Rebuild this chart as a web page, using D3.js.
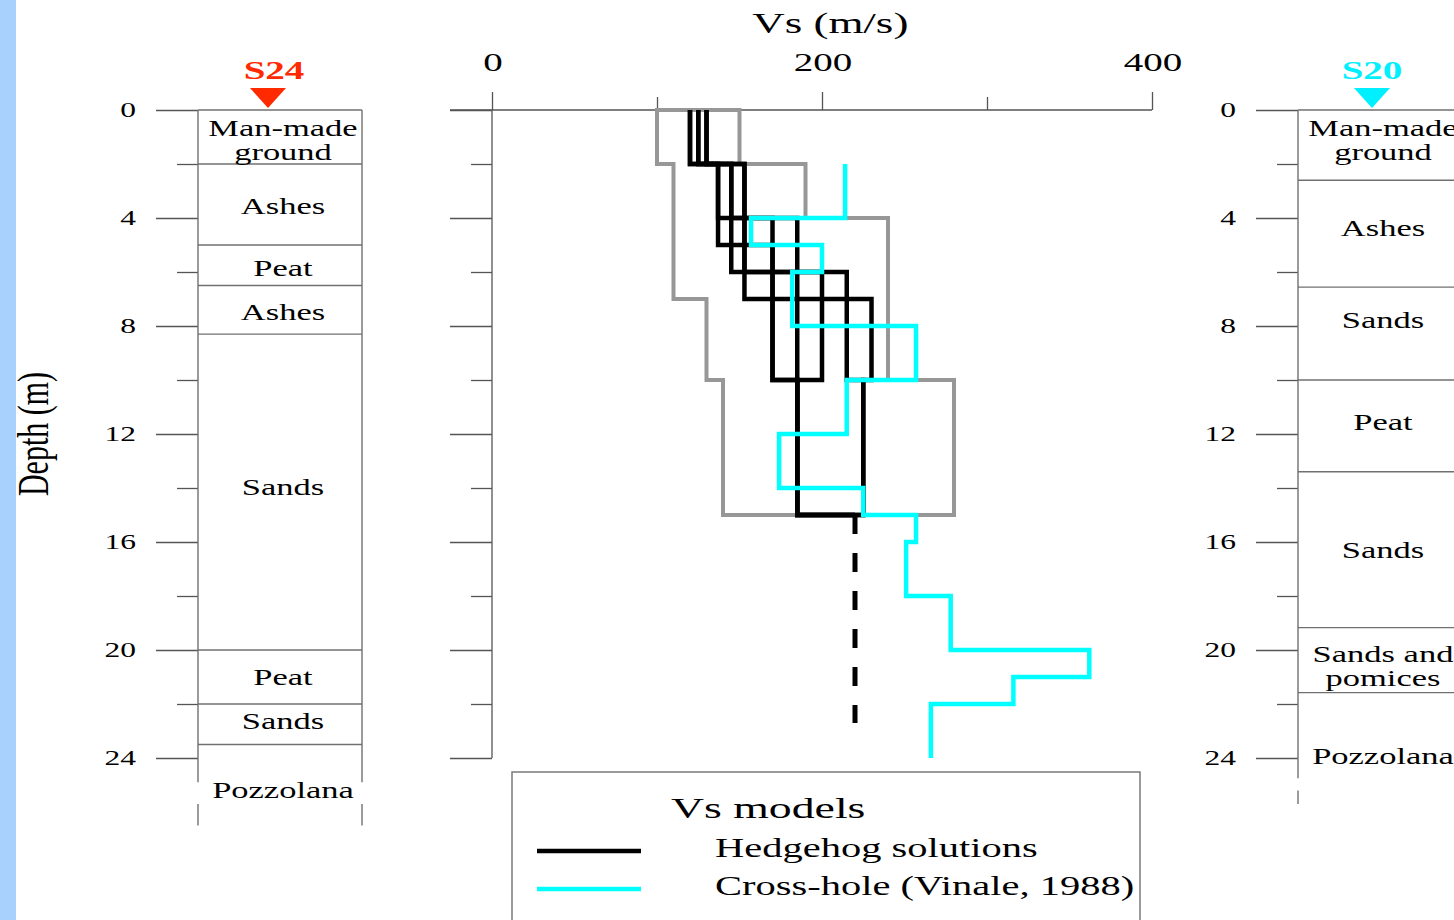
<!DOCTYPE html>
<html><head><meta charset="utf-8">
<script src="https://cdn.jsdelivr.net/npm/d3@7"></script>
<style>html,body{margin:0;padding:0;background:#fff;overflow:hidden}</style>
</head><body><svg id="c" width="1454" height="920"></svg>
<script>
// ---------------- data ----------------
const vsTicksMajor = [0, 200, 400];
const vsTicksMinor = [100, 300];
const depthTicksMajor = [0, 4, 8, 12, 16, 20, 24];
const depthTicksMinor = [2, 6, 10, 14, 18, 22];

const s24Tops = [0, 2, 5, 6.5, 8.3, 20, 22, 23.5];
const s24Names = [["Man-made", "ground"], ["Ashes"], ["Peat"], ["Ashes"], ["Sands"], ["Peat"], ["Sands"], ["Pozzolana"]];
const s24LabelDepths = [1.12, 3.56, 5.85, 7.48, 13.96, 21.0, 22.63, 25.19];
const s24SideSpans = [[0, 24.9], [25.7, 26.5]];

const s20Tops = [0, 2.6, 6.56, 10, 13.4, 19.17, 21.58];
const s20Names = [["Man-made", "ground"], ["Ashes"], ["Sands"], ["Peat"], ["Sands"], ["Sands and", "pomices"], ["Pozzolana"]];
const s20LabelDepths = [1.12, 4.37, 7.78, 11.56, 16.3, 20.6, 23.93];
const s20SideSpans = [[0, 24.75], [25.2, 25.7]];

// grey envelope of the explored parameter space
const envMinTops = [0, 2, 7, 10], envMinVs = [100, 110, 130, 140];
const envMaxTops = [0, 2, 4, 10], envMaxVs = [150, 190, 240, 280];
const envBottom = 15;

// Hedgehog solutions
const hhTops = [[0, 2, 5, 10], [0, 2, 6, 10], [0, 2, 7, 10], [0, 2, 4, 10], [0, 2, 4], [0, 2, 6, 10]];
const hhVs = [[120, 137, 170, 185], [125, 145, 200, 185], [130, 153, 230, 225], [120, 137, 170, 185], [125, 145, 185], [130, 153, 215, 225]];
const hhBottom = 15;
const hhHalfspaceVs = 220;
const hhHalfspaceEnd = 22.7;

// Cross-hole (Vinale, 1988)
const chTops = [2, 4, 5, 6, 8, 10, 12, 14, 15, 16, 18, 20, 21, 22];
const chVs = [214, 157, 200, 182, 257, 215, 174, 225, 257, 251, 278, 362, 316, 266];
const chBottom = 24;

const legendItems = ["Hedgehog solutions", "Cross-hole (Vinale, 1988)"];
const legendColors = ["#000000", "#00ffff"];

// ---------------- drawing ----------------
const FONT = "'Liberation Serif','Times New Roman',serif";
const SX = 1.5;
const svg = d3.select("#c");
svg.append("rect").attr("x", 0).attr("y", 0).attr("width", 16).attr("height", 920).attr("fill", "#a8d2fd");

const x = d3.scaleLinear().domain([0, 400]).range([492, 1152]);
const y = d3.scaleLinear().domain([0, 24]).range([110, 758]);
const AX = "#555";

function txt(g, px, py, s, o) {
  return g.append("text")
    .attr("transform", `translate(${px},${py}) scale(${o.sx || SX},1)`)
    .attr("text-anchor", o.anchor || "middle")
    .attr("font-family", FONT)
    .attr("font-size", o.size)
    .attr("font-weight", o.weight || "normal")
    .attr("fill", o.fill || "#000")
    .text(s);
}
function styleAxis(g) {
  g.select(".domain").remove();
  g.selectAll(".tick line").attr("stroke", AX).attr("stroke-width", 1.3);
}

// ---- depth columns ----
function drawColumn(x0, w, tops, names, labelDepths, sideSpans, markerText, markerColor, markerOff, textOff) {
  const g = svg.append("g");
  g.append("g").attr("transform", `translate(${x0},0)`)
    .call(d3.axisLeft(y).tickValues(depthTicksMajor).tickSize(42).tickFormat("")).call(styleAxis);
  g.append("g").attr("transform", `translate(${x0},0)`)
    .call(d3.axisLeft(y).tickValues(depthTicksMinor).tickSize(21).tickFormat("")).call(styleAxis);
  depthTicksMajor.forEach(d => txt(g, x0 - 62, y(d) + 7, d, { size: 21, anchor: "end" }));
  tops.forEach(t => g.append("line").attr("x1", x0).attr("x2", x0 + w).attr("y1", y(t)).attr("y2", y(t))
    .attr("stroke", "#707070").attr("stroke-width", 1.4));
  sideSpans.forEach(s => [x0, x0 + w].forEach(xx => g.append("line").attr("x1", xx).attr("x2", xx)
    .attr("y1", y(s[0])).attr("y2", y(s[1])).attr("stroke", "#707070").attr("stroke-width", 1.4)));
  names.forEach((n, i) => {
    const yc = y(labelDepths[i]);
    n.forEach((line, k) => txt(g, x0 + w / 2 + 3, yc + 7.6 + (k - (n.length - 1) / 2) * 24, line, { size: 23 }));
  });
  const mx = x0 + markerOff;
  g.append("path").attr("d", `M${mx - 18},${y(0) - 22}L${mx + 18},${y(0) - 22}L${mx},${y(0) - 2}Z`).attr("fill", markerColor);
  txt(g, mx + textOff, 79, markerText, { size: 26, weight: "bold", fill: markerColor });
}
drawColumn(198, 164, s24Tops, s24Names, s24LabelDepths, s24SideSpans, "S24", "#ff2a00", 70, 6);
drawColumn(1298, 164, s20Tops, s20Names, s20LabelDepths, s20SideSpans, "S20", "#00f0ff", 74, 0);

// depth axis title
svg.append("text").attr("transform", `translate(48,${y(12)}) scale(${SX},1) rotate(-90)`)
  .attr("text-anchor", "middle").attr("font-family", FONT).attr("font-size", 30).text("Depth (m)");

// ---- central Vs plot ----
const cg = svg.append("g");
cg.append("g").attr("transform", `translate(${x(0)},0)`)
  .call(d3.axisLeft(y).tickValues(depthTicksMajor).tickSize(42).tickFormat("")).call(styleAxis);
cg.append("g").attr("transform", `translate(${x(0)},0)`)
  .call(d3.axisLeft(y).tickValues(depthTicksMinor).tickSize(21).tickFormat("")).call(styleAxis);
cg.append("g").attr("transform", `translate(0,${y(0)})`)
  .call(d3.axisTop(x).tickValues(vsTicksMajor).tickSize(18).tickFormat("")).call(styleAxis);
cg.append("g").attr("transform", `translate(0,${y(0)})`)
  .call(d3.axisTop(x).tickValues(vsTicksMinor).tickSize(13).tickFormat("")).call(styleAxis);
cg.append("line").attr("x1", x(0) - 42).attr("x2", x(400)).attr("y1", y(0)).attr("y2", y(0)).attr("stroke", AX).attr("stroke-width", 1.3);
cg.append("line").attr("x1", x(0)).attr("x2", x(0)).attr("y1", y(0)).attr("y2", y(24)).attr("stroke", AX).attr("stroke-width", 1.3);
vsTicksMajor.forEach(v => txt(cg, x(v) + 1, 71, v, { size: 26 }));
txt(cg, x(205), 33, "Vs (m/s)", { size: 30 });

function stepPoints(tops, vs, bottom) {
  const pts = [];
  tops.forEach((t, i) => {
    const b = i < tops.length - 1 ? tops[i + 1] : bottom;
    pts.push([vs[i], t], [vs[i], b]);
  });
  return pts;
}
const line = d3.line().x(p => x(p[0])).y(p => y(p[1]));

// grey envelope
const envPts = stepPoints(envMinTops, envMinVs, envBottom).concat(stepPoints(envMaxTops, envMaxVs, envBottom).reverse());
cg.append("path").attr("d", line(envPts) + "Z").attr("fill", "none").attr("stroke", "#979797").attr("stroke-width", 4).attr("stroke-linejoin", "miter");

// hedgehog solutions
hhTops.forEach((t, i) => {
  const pts = stepPoints(t, hhVs[i], hhBottom);
  pts.push([hhHalfspaceVs, hhBottom]);
  cg.append("path").attr("d", line(pts)).attr("fill", "none").attr("stroke", "#000").attr("stroke-width", 4.5);
});
cg.append("path").attr("d", line([[hhHalfspaceVs, hhBottom], [hhHalfspaceVs, hhHalfspaceEnd]]))
  .attr("stroke", "#000").attr("stroke-width", 5).attr("stroke-dasharray", "19,19");

// cross-hole
cg.append("path").attr("d", line(stepPoints(chTops, chVs, chBottom))).attr("fill", "none")
  .attr("stroke", "#00ffff").attr("stroke-width", 4.5);

// ---- legend ----
const lg = svg.append("g");
lg.append("rect").attr("x", 512).attr("y", 772).attr("width", 628).attr("height", 200)
  .attr("fill", "none").attr("stroke", "#707070").attr("stroke-width", 1.4);
txt(lg, 671, 818, "Vs models", { size: 30.5, anchor: "start" });
legendItems.forEach((s, i) => {
  const yy = 851 + i * 38;
  lg.append("line").attr("x1", 537).attr("x2", 641).attr("y1", yy).attr("y2", yy).attr("stroke", legendColors[i]).attr("stroke-width", 4.5);
  txt(lg, 715, yy + 6, s, { size: 27, anchor: "start" });
});
</script></body></html>
